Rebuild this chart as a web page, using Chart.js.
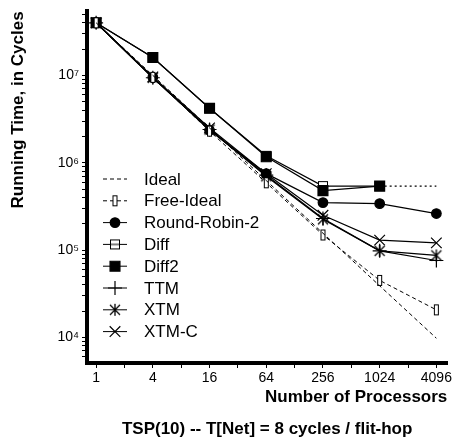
<!DOCTYPE html>
<html>
<head>
<meta charset="utf-8">
<script src="https://cdn.jsdelivr.net/npm/chart.js@4/dist/chart.umd.min.js"></script>
<style>
  html, body { margin: 0; padding: 0; background: #fff; }
  #wrap { width: 456px; height: 446px; }
</style>
</head>
<body>
<div id="wrap"><canvas id="canvas" width="456" height="446"></canvas></div>
<script>
// processors (x) and running time in cycles (y)
var procs = [1, 4, 16, 64, 256, 1024, 4096];
var ideal = [4.0e7, 1.0e7, 2.5e6, 6.25e5, 1.56e5, 3.9e4, 9.8e3];
var freeIdeal = [4.0e7, 9.5e6, 2.3e6, 5.9e5, 1.49e5, 4.5e4, 2.07e4];
var roundRobin2 = [4.0e7, 9.5e6, 2.35e6, 7.5e5, 3.5e5, 3.4e5, 2.62e5];
var diff = [4.0e7, 1.6e7, 4.2e6, 1.2e6, 5.4e5, 5.4e5, 5.4e5];
var diff2 = [4.0e7, 1.6e7, 4.2e6, 1.17e6, 4.8e5, 5.4e5, null];
var ttm = [4.0e7, 9.4e6, 2.4e6, 7.2e5, 2.3e5, 9.8e4, 7.6e4];
var xtm = [4.0e7, 9.4e6, 2.4e6, 7.0e5, 2.25e5, 9.8e4, 8.7e4];
var xtmC = [4.0e7, 9.6e6, 2.5e6, 7.5e5, 2.5e5, 1.3e5, 1.21e5];
var xTickLabels = ['1', '4', '16', '64', '256', '1024', '4096'];
var yTickLabels = { 4: '10\u2074', 5: '10\u2075', 6: '10\u2076', 7: '10\u2077' };

Chart.defaults.font.family = "'Liberation Sans', Arial, sans-serif";
Chart.defaults.color = '#000';

function pts(vals) {
    return procs.map(function (p, i) { return { x: p, y: vals[i] }; });
}

function marker(w, h, draw) {
    var c = document.createElement('canvas');
    c.width = w; c.height = h;
    var g = c.getContext('2d');
    g.strokeStyle = '#000'; g.fillStyle = '#fff'; g.lineWidth = 1;
    draw(g);
    return c;
}

var freeIdealImg = marker(7, 13, function (g) {
    g.fillRect(1.5, 1.5, 4, 10);
    g.strokeRect(1.5, 1.5, 4, 10);
});
var diffImg = marker(12, 12, function (g) {
    g.fillRect(1.5, 1.5, 9, 9);
    g.strokeRect(1.5, 1.5, 9, 9);
    g.beginPath(); g.moveTo(1.5, 6); g.lineTo(10.5, 6); g.stroke();
});
var xtmImg = marker(14, 14, function (g) {
    g.lineWidth = 1.3;
    g.beginPath();
    g.moveTo(7, 1); g.lineTo(7, 13);
    g.moveTo(2, 2); g.lineTo(12, 12);
    g.moveTo(12, 2); g.lineTo(2, 12);
    g.stroke();
});

function series(label, vals, extra) {
    var d = {
        label: label,
        data: pts(vals),
        borderColor: '#000',
        borderWidth: 1.2,
        pointBorderColor: '#000',
        pointBackgroundColor: '#000',
        pointBorderWidth: 1.2,
        pointRadius: 0,
        fill: false,
        tension: 0
    };
    for (var k in extra) d[k] = extra[k];
    return d;
}

var datasets = [
    series('Ideal', ideal, { borderDash: [4, 3], borderWidth: 1 }),
    series('Free-Ideal', freeIdeal, { borderDash: [4, 3], borderWidth: 1, pointStyle: freeIdealImg, pointRadius: 5 }),
    series('Round-Robin-2', roundRobin2, { pointStyle: 'circle', pointRadius: 4.8 }),
    series('Diff', diff, {
        order: 1,
        pointStyle: diffImg,
        pointRadius: [5, 5, 5, 5, 5, 5, 0],
        segment: { borderDash: function (c) { return c.p1DataIndex === 6 ? [2, 3] : undefined; } }
    }),
    series('Diff2', diff2, { pointStyle: 'rect', pointRadius: 7 }),
    series('TTM', ttm, { pointStyle: 'cross', pointRadius: 7 }),
    series('XTM', xtm, { pointStyle: xtmImg, pointRadius: 6 }),
    series('XTM-C', xtmC, { pointStyle: 'crossRot', pointRadius: 7.5 })
];

// legend drawn inside the plot area, lower left
var insideLegend = {
    id: 'insideLegend',
    afterDatasetsDraw: function (chart) {
        var ctx = chart.ctx;
        var x0 = 103, x1 = 127, xm = 115, tx = 144, y = 179, step = 21.8;
        ctx.save();
        chart.data.datasets.forEach(function (ds, i) {
            var yy = y + i * step;
            ctx.strokeStyle = '#000';
            ctx.fillStyle = '#000';
            ctx.lineWidth = 1;
            ctx.setLineDash(ds.borderDash || []);
            ctx.beginPath(); ctx.moveTo(x0, yy); ctx.lineTo(x1, yy); ctx.stroke();
            ctx.setLineDash([]);
            if (ds.pointStyle) {
                var r = Array.isArray(ds.pointRadius) ? ds.pointRadius[0] : ds.pointRadius;
                ctx.lineWidth = ds.pointBorderWidth;
                Chart.helpers.drawPoint(ctx, { pointStyle: ds.pointStyle, radius: r, rotation: 0, borderWidth: ds.pointBorderWidth }, xm, yy);
            }
            ctx.fillStyle = '#000';
            ctx.font = "17px 'Liberation Sans', Arial, sans-serif";
            ctx.textBaseline = 'middle';
            ctx.textAlign = 'left';
            ctx.fillText(ds.label, tx, yy + 1);
        });
        ctx.restore();
    }
};

var ctx = document.getElementById('canvas').getContext('2d');
window.RunningTime = new Chart(ctx, {
    type: 'line',
    data: { datasets: datasets },
    plugins: [insideLegend],
    options: {
        responsive: false,
        animation: false,
        layout: { padding: { left: 6, right: 7, top: 6, bottom: 6 } },
        plugins: {
            legend: { display: false },
            tooltip: { enabled: false },
            title: {
                display: true,
                position: 'bottom',
                fullSize: false,
                text: 'TSP(10) -- T[Net] = 8 cycles / flit-hop',
                color: '#000',
                font: { size: 17, weight: 'bold' },
                padding: { top: 10, bottom: 0 }
            }
        },
        scales: {
            x: {
                type: 'logarithmic',
                min: 0.8,
                max: 5350,
                border: { display: true, color: '#000', width: 4 },
                grid: { drawOnChartArea: false, color: '#000', tickColor: '#000', tickLength: 5 },
                afterBuildTicks: function (scale) {
                    var t = [];
                    for (var p = 1; p <= 4096; p *= 2) t.push({ value: p });
                    scale.ticks = t;
                },
                afterFit: function (scale) { scale.height = 46.6; },
                ticks: {
                    autoSkip: false,
                    maxRotation: 0,
                    padding: 2,
                    font: { size: 14 },
                    callback: function (v) {
                        var i = procs.indexOf(v);
                        return i >= 0 ? xTickLabels[i] : '';
                    }
                },
                title: {
                    display: true,
                    text: 'Number of Processors',
                    align: 'end',
                    font: { size: 17, weight: 'bold' },
                    padding: { top: 0, bottom: 2.4 }
                }
            },
            y: {
                type: 'logarithmic',
                min: 5100,
                max: 5.4e7,
                border: { display: true, color: '#000', width: 4 },
                grid: { drawOnChartArea: false, color: '#000', tickColor: '#000', tickLength: 5 },
                afterBuildTicks: function (scale) {
                    var t = [];
                    for (var e = 3; e <= 7; e++) {
                        for (var m = 1; m <= 9; m++) {
                            var v = m * Math.pow(10, e);
                            if (v >= 5100 && v <= 5.4e7) t.push({ value: v });
                        }
                    }
                    scale.ticks = t;
                },
                afterFit: function (scale) { scale.width = 81; },
                ticks: {
                    autoSkip: false,
                    padding: 3,
                    font: { size: 14 },
                    callback: function (v) {
                        var e = Math.log10(v);
                        var r = Math.round(e);
                        return Math.abs(e - r) < 1e-9 && yTickLabels[r] ? yTickLabels[r] : '';
                    }
                },
                title: {
                    display: true,
                    text: 'Running Time, in Cycles',
                    align: 'end',
                    font: { size: 17, weight: 'bold' },
                    padding: { top: 2, bottom: 0 }
                }
            }
        }
    }
});
</script>
</body>
</html>
